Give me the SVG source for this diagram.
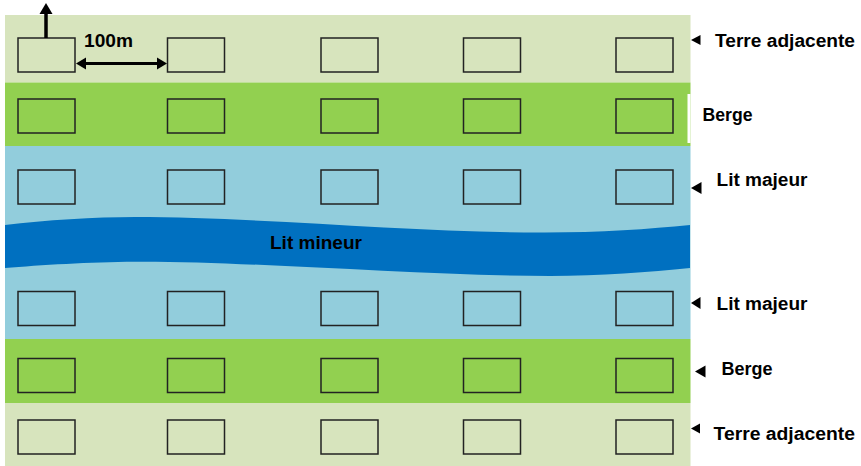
<svg xmlns="http://www.w3.org/2000/svg" width="861" height="466" viewBox="0 0 861 466">
<style>
.t{font-family:"Liberation Sans",Arial,sans-serif;font-weight:bold;font-size:18px;fill:#000}
.plot{stroke:#222;stroke-width:1.5}
.terre{fill:#d7e4bd}
.berge{fill:#92d050}
.maj{fill:#92cddc}
.tri{fill:#000}
</style>
<defs>
<rect id="p" class="plot" width="57" height="34"/>
</defs>
<rect width="861" height="466" fill="#fff"/>
<g id="bands">
<rect class="terre" x="5" y="15" width="685.5" height="67.5"/>
<rect class="berge" x="5" y="82.5" width="685.5" height="63.5"/>
<rect fill="#fff" x="687.5" y="94" width="3" height="49"/>
<rect class="maj" x="5" y="146" width="685.5" height="193"/>
<rect class="berge" x="5" y="339" width="685.5" height="64"/>
<rect class="terre" x="5" y="403" width="685.5" height="63"/>
<path id="lit-mineur-shape" fill="#0070c0" d="M5,225 C45,220 95,217 135,217 C260,217 420,233 545,232.5 C600,232.5 650,229 690,225 L690,268 C650,272 600,276 550,276 C420,276 250,261 135,261.7 C90,262 40,265 5,268 Z"/>
</g>
<g id="plots">
<g class="terre">
<use href="#p" x="18" y="38"/><use href="#p" x="167.5" y="38"/><use href="#p" x="321" y="38"/><use href="#p" x="463.5" y="38"/><use href="#p" x="616" y="38"/>
<use href="#p" x="18" y="420"/><use href="#p" x="167.5" y="420"/><use href="#p" x="321" y="420"/><use href="#p" x="463.5" y="420"/><use href="#p" x="616" y="420"/>
</g>
<g class="berge">
<use href="#p" x="18" y="99" height="36"/><use href="#p" x="167.5" y="99"/><use href="#p" x="321" y="99"/><use href="#p" x="463.5" y="99"/><use href="#p" x="616" y="99"/>
<use href="#p" x="18" y="358.5"/><use href="#p" x="167.5" y="358.5"/><use href="#p" x="321" y="358.5"/><use href="#p" x="463.5" y="358.5"/><use href="#p" x="616" y="358.5"/>
</g>
<g class="maj">
<use href="#p" x="18" y="170"/><use href="#p" x="167.5" y="170"/><use href="#p" x="321" y="170"/><use href="#p" x="463.5" y="170"/><use href="#p" x="616" y="170"/>
<use href="#p" x="18" y="291.5"/><use href="#p" x="167.5" y="291.5"/><use href="#p" x="321" y="291.5"/><use href="#p" x="463.5" y="291.5"/><use href="#p" x="616" y="291.5"/>
</g>
</g>
<g id="connectors">
<line x1="46" y1="38" x2="46" y2="12" stroke="#000" stroke-width="3.5"/>
<polygon class="tri" points="46,3 39.5,14 52.5,14"/>
<line x1="83" y1="63.5" x2="160" y2="63.5" stroke="#000" stroke-width="3"/>
<polygon class="tri" points="76,63.5 86,57.5 86,69.5"/>
<polygon class="tri" points="167,63.5 157,57.5 157,69.5"/>
</g>
<g id="label-100m"><text class="t" x="84" y="47" textLength="49" lengthAdjust="spacingAndGlyphs">100m</text></g>
<g id="label-terre-haut">
<polygon class="tri" points="691,40 700.5,35 700.5,45"/>
<text class="t" x="715" y="47" textLength="140" lengthAdjust="spacingAndGlyphs">Terre adjacente</text>
</g>
<g id="label-berge-haut">
<text class="t" x="702.5" y="121" textLength="50" lengthAdjust="spacingAndGlyphs">Berge</text>
</g>
<g id="label-majeur-haut">
<polygon class="tri" points="691,188 701.5,182 701.5,194"/>
<text class="t" x="716.5" y="186" textLength="91" lengthAdjust="spacingAndGlyphs">Lit majeur</text>
</g>
<g id="label-mineur">
<text class="t" x="270" y="248.5" textLength="92" lengthAdjust="spacingAndGlyphs">Lit mineur</text>
</g>
<g id="label-majeur-bas">
<polygon class="tri" points="691,303 700.5,297 700.5,309"/>
<text class="t" x="716.5" y="309.5" textLength="91" lengthAdjust="spacingAndGlyphs">Lit majeur</text>
</g>
<g id="label-berge-bas">
<polygon class="tri" points="695,371.5 705.5,365.5 705.5,377.5"/>
<text class="t" x="721.5" y="374.5" textLength="51" lengthAdjust="spacingAndGlyphs">Berge</text>
</g>
<g id="label-terre-bas">
<polygon class="tri" points="691,428.5 700,423.5 700,433.5"/>
<text class="t" x="713.5" y="439.5" textLength="141.5" lengthAdjust="spacingAndGlyphs">Terre adjacente</text>
</g>
</svg>
